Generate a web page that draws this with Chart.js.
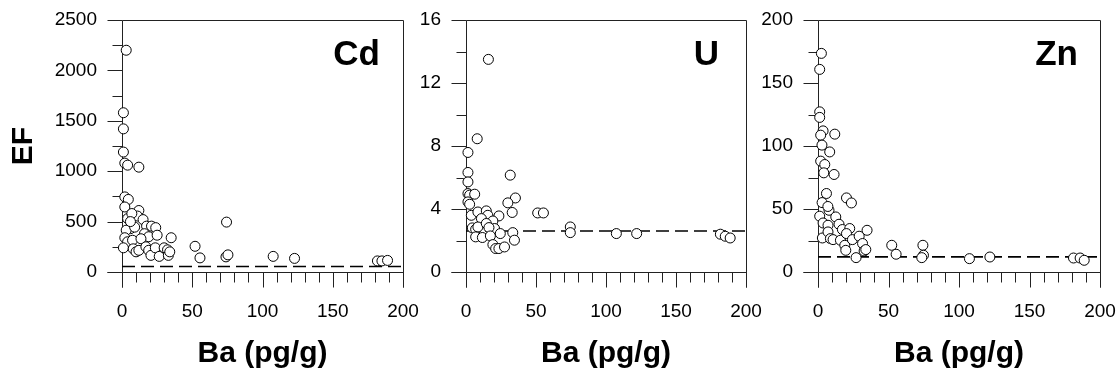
<!DOCTYPE html>
<html lang="en">
  <head>
    <meta charset="UTF-8" />
    <title>EF vs Ba</title>
    <style>
      body { margin: 0; background: #fff; }
      canvas { position: absolute; top: 0; }
    </style>
  </head>
  <body>
    <canvas id="cd" width="419" height="372" style="left:0px"></canvas>
    <canvas id="u" width="343" height="372" style="left:419px"></canvas>
    <canvas id="zn" width="354" height="372" style="left:762px"></canvas>

    <script src="https://cdn.jsdelivr.net/npm/chart.js"></script>
    <script>
      // Ba concentration (pg/g) and enrichment factors
      const cdBa = [3, 1, 1, 1, 2, 4, 12, 2, 4.5, 2, 4, 12, 11, 15, 6, 3, 9, 17.5, 21, 24, 16, 19, 25, 35, 2, 4, 7.5, 13.5, 1, 8, 10, 12, 17, 19, 20.6, 23.7, 26.5, 30, 32.4, 33, 34, 52, 55.5, 74.4, 74, 75.4, 107.6, 122.8, 181.8, 185, 189, 7, 6];
      const cdEF = [2200, 1580, 1420, 1190, 1080, 1060, 1040, 745, 720, 645, 530, 610, 555, 520, 430, 415, 445, 455, 455, 440, 380, 350, 365, 340, 340, 300, 315, 330, 240, 230, 200, 215, 250, 215, 165, 240, 155, 240, 220, 165, 200, 255, 140, 495, 150, 170, 155, 135, 110, 110, 115, 580, 500];

      const uBa = [16, 8, 1.4, 1.4, 1.4, 31.6, 1.4, 2.6, 6.2, 1.4, 2.6, 35.3, 29.9, 33, 51.2, 55.3, 3.8, 8.5, 14.5, 15.6, 23.5, 11, 19.2, 4.5, 6.9, 8.5, 14.5, 20.4, 16.4, 24.5, 33.4, 6.9, 11.7, 17.4, 19.2, 21.2, 23.5, 27.5, 34.6, 74.5, 74.5, 107.4, 121.9, 181.7, 185.2, 188.7];
      const uEF = [13.5, 8.46, 7.59, 6.32, 5.72, 6.15, 4.98, 4.88, 4.94, 4.45, 4.3, 4.7, 4.39, 3.78, 3.75, 3.75, 3.6, 3.81, 3.88, 3.6, 3.56, 3.39, 3.24, 2.8, 2.71, 2.86, 3.08, 2.76, 2.82, 2.44, 2.5, 2.23, 2.19, 2.29, 1.74, 1.49, 1.49, 1.59, 2.02, 2.86, 2.5, 2.44, 2.44, 2.4, 2.27, 2.16];

      const znBa = [2.4, 1.2, 1.2, 1.2, 3.6, 1.9, 11.9, 2.8, 8.3, 1.9, 4.8, 4.1, 11.4, 6, 2.9, 20.2, 23.7, 1.2, 7.8, 7, 12.6, 3.6, 7.1, 14.9, 17.3, 22.5, 34.8, 3.1, 7.1, 8.8, 10.7, 15.9, 20.2, 19, 19.7, 24.4, 29.2, 31.6, 32.7, 33.9, 27, 52.3, 55.4, 74.4, 74.8, 73.6, 107.4, 121.9, 181.2, 185.9, 188.8];
      const znEF = [173.5, 160.8, 127.1, 122.7, 112, 108.6, 109.4, 100.7, 95.3, 88, 85.3, 78.7, 77.4, 62.3, 55.1, 58.8, 54.8, 44.3, 49, 52, 43.7, 38.9, 37.1, 37.9, 33.7, 34.5, 33.1, 27, 31.8, 26.5, 25.7, 25.2, 30.5, 21.2, 17.2, 25.7, 28.4, 22.6, 16.7, 17.8, 11.4, 21.2, 14.1, 21.2, 13.3, 11.4, 10.6, 11.9, 11.1, 11.1, 9.3];

      // dashed reference level per element
      const cdRef = 55;
      const uRef = 2.6;
      const znRef = 12;

      const baRange = [0, 200];
      const FONT = "'Liberation Sans', Arial, sans-serif";

      // frame + outward major/minor ticks, SigmaPlot style
      const framePlugin = {
        id: "frame",
        beforeDatasetsDraw(chart, args, opts) {
          const { ctx, chartArea: a, scales } = chart;
          const x = scales.x, y = scales.y;
          const r = (v) => Math.round(v) + 0.5;
          ctx.save();
          ctx.strokeStyle = "#222";
          ctx.lineWidth = 1;
          ctx.beginPath();
          ctx.moveTo(r(a.left), r(a.bottom) + 15);
          ctx.lineTo(r(a.left), r(a.top));
          ctx.lineTo(r(a.right), r(a.top));
          ctx.lineTo(r(a.right), r(a.bottom) + 15);
          ctx.moveTo(r(a.left) - 15, r(a.bottom));
          ctx.lineTo(r(a.right), r(a.bottom));
          const nx = Math.round((x.max - x.min) / opts.xMinor);
          for (let i = 0; i <= nx; i++) {
            const px = r(x.getPixelForValue(x.min + i * opts.xMinor));
            const len = i % opts.xEvery === 0 ? 15 : 10;
            ctx.moveTo(px, r(a.bottom));
            ctx.lineTo(px, r(a.bottom) + len);
          }
          const ny = Math.round((y.max - y.min) / opts.yMinor);
          for (let i = 0; i <= ny; i++) {
            const py = r(y.getPixelForValue(y.min + i * opts.yMinor));
            const len = i % 2 === 0 ? 15 : 10;
            ctx.moveTo(r(a.left), py);
            ctx.lineTo(r(a.left) - len, py);
          }
          ctx.stroke();
          ctx.restore();
        },
        afterDraw(chart, args, opts) {
          const { ctx, chartArea: a } = chart;
          ctx.save();
          ctx.fillStyle = "#000";
          ctx.font = "bold 35px " + FONT;
          ctx.textAlign = "right";
          ctx.textBaseline = "alphabetic";
          ctx.fillText(opts.label, a.right - opts.labelGap, 65);
          ctx.restore();
        },
      };

      function makePanel(id, label, xs, ys, ref, yMax, yStep, yMinor, yWidth, labelGap, showTitle) {
        const pts = xs.map((v, i) => ({ x: v, y: ys[i] }));
        return new Chart(document.getElementById(id), {
          type: "scatter",
          data: {
            datasets: [
              {
                data: pts,
                pointRadius: 5,
                pointBorderWidth: 1,
                pointBackgroundColor: "#fff",
                pointBorderColor: "#000",
                clip: false,
                order: 0,
              },
              {
                type: "line",
                data: [{ x: baRange[0], y: ref }, { x: baRange[1], y: ref }],
                borderColor: "#000",
                borderWidth: 1.6,
                borderDash: [13, 6],
                pointRadius: 0,
                order: 1,
              },
            ],
          },
          options: {
            responsive: false,
            animation: false,
            layout: { padding: { left: 0, right: 16, top: 20, bottom: 0 } },
            plugins: {
              legend: { display: false },
              tooltip: { enabled: false },
              frame: { label, labelGap, xMinor: 10, xEvery: 5, yMinor },
            },
            scales: {
              x: {
                type: "linear",
                min: baRange[0],
                max: baRange[1],
                // ticks themselves are drawn by the frame plugin; tickLength only spaces the labels
                grid: { display: false, drawTicks: true, tickLength: 28 },
                border: { display: false },
                ticks: {
                  stepSize: 50,
                  padding: 0,
                  color: "#000",
                  font: { family: FONT, size: 19 },
                  callback: (v) => String(v),
                },
                title: {
                  display: true,
                  text: "Ba (pg/g)",
                  color: "#000",
                  font: { family: FONT, size: 30, weight: "bold" },
                  padding: { top: 0, bottom: 0 },
                },
                afterFit: (s) => { s.height = 100; },
              },
              y: {
                type: "linear",
                min: 0,
                max: yMax,
                grid: { display: false, drawTicks: true, tickLength: 25 },
                border: { display: false },
                ticks: {
                  stepSize: yStep,
                  padding: 0,
                  autoSkip: false,
                  color: "#000",
                  font: { family: FONT, size: 19 },
                  callback: (v) => String(v),
                },
                title: {
                  display: showTitle,
                  text: "EF",
                  color: "#000",
                  font: { family: FONT, size: 30, weight: "bold" },
                  padding: { top: 6, bottom: 0 },
                },
                afterFit: (s) => { s.width = yWidth; },
              },
            },
          },
          plugins: [framePlugin],
        });
      }

      makePanel("cd", "Cd", cdBa, cdEF, cdRef, 2500, 500, 250, 122, 23, true);
      makePanel("u", "U", uBa, uEF, uRef, 16, 4, 2, 47, 27, false);
      makePanel("zn", "Zn", znBa, znEF, znRef, 200, 50, 25, 56, 22, false);
    </script>
  </body>
</html>
